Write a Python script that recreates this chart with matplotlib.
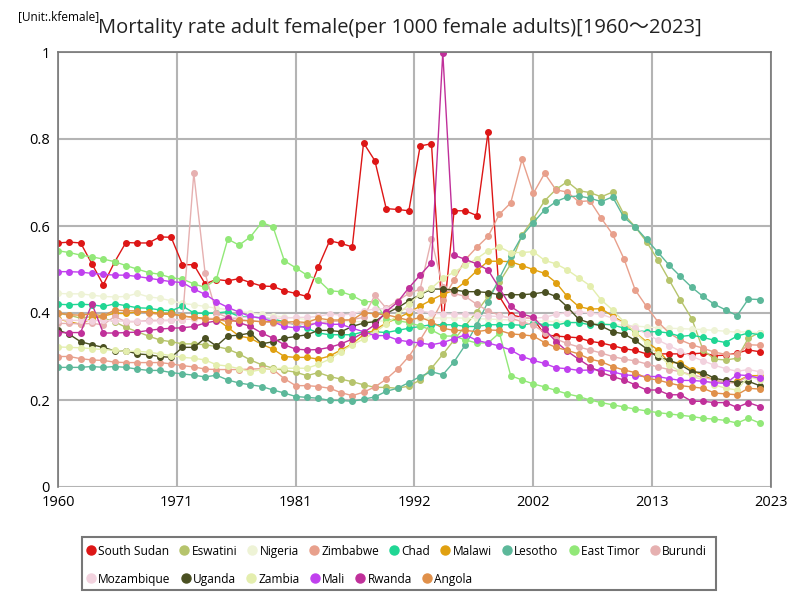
import numpy as np
import matplotlib
matplotlib.use('Agg')
import matplotlib.pyplot as plt
from matplotlib.lines import Line2D
from matplotlib.patches import Rectangle

plt.rcParams['font.family'] = ['Open Sans', 'Noto Sans CJK JP', 'DejaVu Sans']

# データ（1960〜2022）
years = list(range(1960, 2023))

south_sudan = [0.561, 0.563, 0.561, 0.513, 0.465, 0.517, 0.562, 0.561, 0.561, 0.575, 0.574,
               0.511, 0.511, 0.467, 0.477, 0.474, 0.479, 0.470, 0.462, 0.461, 0.451,
               0.445, 0.438, 0.506, 0.566, 0.560, 0.552, 0.791, 0.750, 0.640, 0.638,
               0.635, 0.784, 0.789, 0.373, 0.635, 0.635, 0.624, 0.816, 0.438, 0.396,
               0.390, 0.387, 0.350, 0.347, 0.345, 0.343, 0.335, 0.331, 0.325, 0.318,
               0.314, 0.306, 0.306, 0.306, 0.306, 0.306, 0.308, 0.302, 0.303, 0.308,
               0.315, 0.311]
eswatini = [0.399, 0.395, 0.388, 0.392, 0.388, 0.380, 0.367, 0.357, 0.347, 0.338, 0.334,
            0.329, 0.329, 0.327, 0.323, 0.317, 0.306, 0.292, 0.281, 0.273, 0.268,
            0.264, 0.256, 0.263, 0.254, 0.248, 0.242, 0.235, 0.229, 0.229, 0.227,
            0.232, 0.246, 0.273, 0.305, 0.338, 0.371, 0.403, 0.438, 0.471, 0.512,
            0.579, 0.617, 0.658, 0.684, 0.702, 0.681, 0.677, 0.667, 0.678, 0.627,
            0.598, 0.564, 0.522, 0.476, 0.430, 0.387, 0.315, 0.294, 0.292, 0.296,
            0.342, 0.355]
nigeria = [0.445, 0.444, 0.444, 0.441, 0.438, 0.437, 0.438, 0.445, 0.437, 0.434, 0.428,
           0.422, 0.419, 0.415, 0.411, 0.408, 0.404, 0.400, 0.397, 0.394, 0.391,
           0.388, 0.385, 0.383, 0.382, 0.381, 0.380, 0.380, 0.381, 0.382, 0.383,
           0.385, 0.387, 0.388, 0.389, 0.389, 0.388, 0.387, 0.386, 0.385, 0.384,
           0.383, 0.382, 0.381, 0.380, 0.379, 0.378, 0.377, 0.376, 0.374, 0.372,
           0.370, 0.368, 0.366, 0.365, 0.364, 0.363, 0.362, 0.360, 0.358, 0.356,
           0.357, 0.354]
zimbabwe = [0.300, 0.300, 0.295, 0.292, 0.291, 0.287, 0.286, 0.286, 0.286, 0.286, 0.283,
            0.279, 0.276, 0.271, 0.270, 0.270, 0.270, 0.271, 0.272, 0.270, 0.249,
            0.233, 0.233, 0.231, 0.227, 0.217, 0.210, 0.218, 0.230, 0.248, 0.271,
            0.300, 0.338, 0.380, 0.430, 0.476, 0.523, 0.551, 0.576, 0.627, 0.653,
            0.753, 0.675, 0.721, 0.683, 0.678, 0.656, 0.658, 0.618, 0.581, 0.525,
            0.453, 0.415, 0.380, 0.354, 0.338, 0.327, 0.319, 0.310, 0.305, 0.305,
            0.327, 0.326]
chad = [0.420, 0.419, 0.420, 0.419, 0.415, 0.421, 0.417, 0.412, 0.411, 0.407, 0.405,
        0.416, 0.400, 0.399, 0.400, 0.403, 0.392, 0.391, 0.389, 0.386, 0.380,
        0.373, 0.365, 0.354, 0.350, 0.350, 0.350, 0.357, 0.357, 0.355, 0.360,
        0.365, 0.369, 0.373, 0.373, 0.373, 0.369, 0.369, 0.373, 0.373, 0.373,
        0.372, 0.377, 0.373, 0.372, 0.378, 0.378, 0.373, 0.374, 0.373, 0.365,
        0.360, 0.357, 0.357, 0.354, 0.346, 0.349, 0.344, 0.337, 0.332, 0.347,
        0.354, 0.350]
malawi = [0.386, 0.380, 0.374, 0.388, 0.393, 0.399, 0.399, 0.403, 0.403, 0.399, 0.399,
          0.393, 0.390, 0.388, 0.386, 0.367, 0.347, 0.342, 0.328, 0.317, 0.300,
          0.298, 0.298, 0.294, 0.301, 0.315, 0.329, 0.350, 0.361, 0.377, 0.388,
          0.401, 0.416, 0.430, 0.443, 0.452, 0.472, 0.497, 0.519, 0.519, 0.518,
          0.509, 0.500, 0.491, 0.470, 0.438, 0.415, 0.409, 0.410, 0.393, 0.378,
          0.355, 0.334, 0.315, 0.286, 0.286, 0.269, 0.256, 0.246, 0.239, 0.243,
          0.256, 0.256]
lesotho = [0.275, 0.275, 0.275, 0.277, 0.275, 0.277, 0.275, 0.271, 0.268, 0.268, 0.263,
           0.260, 0.257, 0.253, 0.257, 0.246, 0.239, 0.235, 0.231, 0.223, 0.216,
           0.208, 0.206, 0.204, 0.199, 0.199, 0.197, 0.202, 0.207, 0.220, 0.227,
           0.240, 0.254, 0.265, 0.258, 0.288, 0.327, 0.373, 0.426, 0.480, 0.531,
           0.577, 0.608, 0.637, 0.656, 0.667, 0.669, 0.664, 0.656, 0.667, 0.620,
           0.598, 0.569, 0.540, 0.510, 0.484, 0.459, 0.438, 0.420, 0.407, 0.394,
           0.432, 0.431]
east_timor = [0.543, 0.539, 0.533, 0.529, 0.524, 0.518, 0.509, 0.501, 0.493, 0.489, 0.481,
              0.478, 0.467, 0.459, 0.478, 0.570, 0.556, 0.575, 0.608, 0.598, 0.520,
              0.504, 0.487, 0.476, 0.451, 0.449, 0.440, 0.426, 0.426, 0.386, 0.382,
              0.378, 0.370, 0.361, 0.347, 0.347, 0.338, 0.331, 0.331, 0.354, 0.256,
              0.246, 0.237, 0.230, 0.222, 0.214, 0.208, 0.200, 0.194, 0.189, 0.184,
              0.179, 0.175, 0.171, 0.168, 0.165, 0.162, 0.158, 0.156, 0.153, 0.147,
              0.158, 0.147]
burundi = [0.376, 0.376, 0.375, 0.376, 0.373, 0.392, 0.380, 0.380, 0.383, 0.383, 0.383,
           0.385, 0.721, 0.491, 0.400, 0.390, 0.385, 0.382, 0.380, 0.378, 0.376,
           0.375, 0.375, 0.377, 0.380, 0.382, 0.385, 0.390, 0.441, 0.411, 0.428,
           0.445, 0.455, 0.569, 0.460, 0.445, 0.438, 0.420, 0.405, 0.395, 0.388,
           0.380, 0.372, 0.355, 0.340, 0.330, 0.322, 0.315, 0.308, 0.300, 0.294,
           0.290, 0.283, 0.276, 0.270, 0.265, 0.258, 0.252, 0.246, 0.240, 0.239,
           0.255, 0.252]
mozambique = [0.385, 0.383, 0.383, 0.382, 0.383, 0.382, 0.381, 0.381, 0.381, 0.382, 0.383,
              0.385, 0.386, 0.387, 0.388, 0.389, 0.390, 0.390, 0.389, 0.388, 0.388,
              0.390, 0.390, 0.392, 0.398, 0.395, 0.398, 0.405, 0.409, 0.410, 0.410,
              0.408, 0.405, 0.400, 0.398, 0.397, 0.397, 0.395, 0.393, 0.392, 0.390,
              0.389, 0.388, 0.390, 0.397, 0.401, 0.403, 0.400, 0.397, 0.388, 0.377,
              0.365, 0.352, 0.338, 0.325, 0.312, 0.300, 0.290, 0.280, 0.272, 0.266,
              0.270, 0.265]
uganda = [0.361, 0.351, 0.334, 0.327, 0.321, 0.313, 0.313, 0.306, 0.304, 0.300, 0.298,
          0.321, 0.321, 0.342, 0.324, 0.347, 0.349, 0.354, 0.329, 0.334, 0.342,
          0.346, 0.350, 0.360, 0.360, 0.357, 0.369, 0.377, 0.380, 0.399, 0.412,
          0.428, 0.442, 0.455, 0.455, 0.453, 0.449, 0.449, 0.447, 0.442, 0.442,
          0.442, 0.444, 0.448, 0.438, 0.414, 0.386, 0.377, 0.370, 0.357, 0.352,
          0.337, 0.318, 0.298, 0.292, 0.281, 0.265, 0.263, 0.250, 0.245, 0.240,
          0.243, 0.233]
zambia = [0.322, 0.321, 0.320, 0.318, 0.316, 0.314, 0.312, 0.312, 0.310, 0.306, 0.302,
          0.298, 0.296, 0.292, 0.281, 0.278, 0.272, 0.265, 0.270, 0.272, 0.273,
          0.273, 0.273, 0.282, 0.294, 0.311, 0.327, 0.340, 0.355, 0.375, 0.395,
          0.420, 0.444, 0.457, 0.480, 0.494, 0.510, 0.525, 0.543, 0.552, 0.539,
          0.539, 0.541, 0.521, 0.513, 0.499, 0.481, 0.463, 0.430, 0.407, 0.380,
          0.355, 0.330, 0.305, 0.281, 0.265, 0.255, 0.246, 0.235, 0.227, 0.223,
          0.254, 0.246]
mali = [0.495, 0.495, 0.494, 0.491, 0.489, 0.487, 0.487, 0.484, 0.480, 0.476, 0.472,
        0.470, 0.455, 0.443, 0.426, 0.413, 0.402, 0.392, 0.388, 0.380, 0.369,
        0.366, 0.370, 0.378, 0.374, 0.374, 0.365, 0.357, 0.348, 0.348, 0.338,
        0.334, 0.331, 0.327, 0.332, 0.341, 0.350, 0.337, 0.331, 0.324, 0.315,
        0.300, 0.291, 0.284, 0.274, 0.272, 0.268, 0.269, 0.270, 0.265, 0.258,
        0.256, 0.254, 0.254, 0.249, 0.245, 0.245, 0.243, 0.240, 0.238, 0.258,
        0.256, 0.250]
rwanda = [0.355, 0.355, 0.355, 0.421, 0.354, 0.354, 0.355, 0.356, 0.360, 0.363, 0.365,
          0.366, 0.369, 0.377, 0.382, 0.388, 0.378, 0.369, 0.354, 0.342, 0.327,
          0.317, 0.315, 0.316, 0.321, 0.329, 0.340, 0.355, 0.373, 0.403, 0.425,
          0.458, 0.487, 0.516, 0.998, 0.533, 0.523, 0.513, 0.499, 0.457, 0.415,
          0.398, 0.390, 0.363, 0.334, 0.312, 0.294, 0.277, 0.263, 0.254, 0.246,
          0.235, 0.223, 0.223, 0.212, 0.212, 0.197, 0.197, 0.194, 0.194, 0.183,
          0.194, 0.185]
angola = [0.400, 0.396, 0.395, 0.398, 0.393, 0.407, 0.405, 0.405, 0.400, 0.397, 0.397,
          0.393, 0.390, 0.386, 0.386, 0.380, 0.383, 0.382, 0.380, 0.380, 0.379,
          0.380, 0.378, 0.388, 0.384, 0.384, 0.384, 0.401, 0.398, 0.396, 0.390,
          0.383, 0.390, 0.380, 0.365, 0.360, 0.360, 0.357, 0.361, 0.360, 0.352,
          0.350, 0.347, 0.332, 0.321, 0.314, 0.306, 0.294, 0.288, 0.277, 0.269,
          0.263, 0.250, 0.246, 0.239, 0.233, 0.230, 0.227, 0.216, 0.214, 0.212,
          0.227, 0.225]

names = ['South Sudan', 'Eswatini', 'Nigeria', 'Zimbabwe', 'Chad', 'Malawi', 'Lesotho',
         'East Timor', 'Burundi', 'Mozambique', 'Uganda', 'Zambia', 'Mali', 'Rwanda', 'Angola']
series = [south_sudan, eswatini, nigeria, zimbabwe, chad, malawi, lesotho,
          east_timor, burundi, mozambique, uganda, zambia, mali, rwanda, angola]
colors = ['#dd1616', '#b6c46c', '#eef3d6', '#e8a08c', '#20d694', '#e0a010', '#5cb89a',
          '#92e878', '#e6b0b0', '#f2d2de', '#4a5022', '#e4eeae', '#c040ee', '#c0309a', '#e0904a']

fig = plt.figure(figsize=(8, 6), dpi=100)
ax = fig.add_axes([58 / 800, 1 - 487 / 600, 713 / 800, 435 / 600])

for name, vals, c in zip(names, series, colors):
    ax.plot(years, vals, color=c, lw=1, marker='o', markersize=4, label=name)

ax.set_xlim(1960, 2023)
ax.set_ylim(0, 1)
xt = np.linspace(1960, 2023, 7)
ax.set_xticks(xt)
ax.set_xticklabels(['1960', '1971', '1981', '1992', '2002', '2013', '2023'])
ax.set_yticks([0, 0.2, 0.4, 0.6, 0.8, 1])
ax.set_yticklabels(['0', '0.2', '0.4', '0.6', '0.8', '1'])
ax.tick_params(length=0, labelsize=10.5, pad=6)
ax.grid(True, color='#b4b4b4', lw=1.5)
ax.set_axisbelow(True)
for s in ax.spines.values():
    s.set_color('#777777')
    s.set_linewidth(1.2)
ax.spines['bottom'].set_visible(False)

fig.text(400 / 800, 1 - 28 / 600, 'Mortality rate adult female(per 1000 female adults)[1960～2023]',
         ha='center', va='center', fontsize=14.5, color='#222222')
fig.text(18 / 800, 1 - 17 / 600, '[Unit:.kfemale]', ha='left', va='center', fontsize=8.5)

# 凡例（2行、左寄せ）
handles = [Line2D([], [], ls='', marker='o', markersize=6.5, color=c) for c in colors]
kw = dict(loc='upper left', frameon=False, fontsize=8.6, handlelength=0.7, handletextpad=0.25,
          columnspacing=0.93, borderaxespad=0, borderpad=0.3)
fig.legend(handles[:9], names[:9], bbox_to_anchor=(83 / 800, 1 - 541 / 600), ncol=9, **kw)
fig.legend(handles[9:], names[9:], bbox_to_anchor=(83 / 800, 1 - 569 / 600), ncol=6, **kw)
fig.patches.append(Rectangle((82 / 800, 1 - 590 / 600), 634 / 800, 53 / 600, transform=fig.transFigure,
                             fill=False, edgecolor='#777777', lw=1.5))

fig.savefig('out.png', dpi=100)
